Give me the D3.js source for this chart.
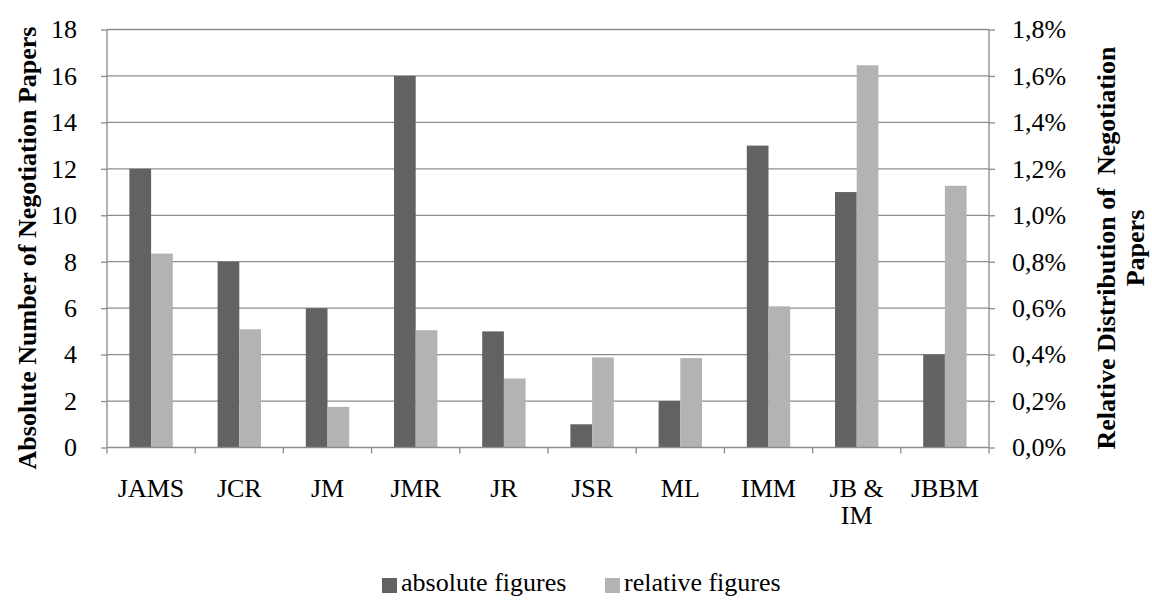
<!DOCTYPE html>
<html><head><meta charset="utf-8">
<script src="https://cdn.jsdelivr.net/npm/d3@7"></script>
<style>body{margin:0;background:#fff}svg{display:block}
svg text{font-family:"Liberation Serif","Times New Roman","DejaVu Serif",serif;}</style>
</head><body>
<svg id="c" width="1152" height="601"></svg>
<script>
const categories = ["JAMS","JCR","JM","JMR","JR","JSR","ML","IMM","JB & IM","JBBM"];
const absoluteValues = [12,8,6,16,5,1,2,13,11,4];
const relativeValues = [0.835,0.509,0.175,0.505,0.297,0.388,0.385,0.608,1.646,1.127];
const leftTicks = [0,2,4,6,8,10,12,14,16,18];
const rightTicks = [0,0.2,0.4,0.6,0.8,1.0,1.2,1.4,1.6,1.8];
const seriesNames = ["absolute figures","relative figures"];
const colors = ["#626262","#b3b3b3"];

const svg = d3.select("#c");
const m = {l:107, r:989, t:29.5, b:447.5};
const fs = 26;
const x = d3.scaleBand().domain(categories).range([m.l,m.r]).paddingInner(0).paddingOuter(0);
const yL = d3.scaleLinear().domain([0,18]).range([m.b,m.t]);
const yR = d3.scaleLinear().domain([0,1.8]).range([m.b,m.t]);
const grid="#8c8c8c";

// gridlines
svg.append("g").selectAll("line").data(leftTicks.slice(1)).join("line")
  .attr("x1",m.l).attr("x2",m.r).attr("y1",d=>yL(d)).attr("y2",d=>yL(d))
  .attr("stroke",grid).attr("stroke-width",1.3);

const bw = x.bandwidth()*0.246;
const g = svg.append("g");
g.selectAll("rect.a").data(categories).join("rect")
  .attr("x",d=>x(d)+x.bandwidth()/2-bw).attr("width",bw)
  .attr("y",(d,i)=>yL(absoluteValues[i])).attr("height",(d,i)=>yL(0)-yL(absoluteValues[i]))
  .attr("fill",colors[0]);
g.selectAll("rect.b").data(categories).join("rect")
  .attr("x",d=>x(d)+x.bandwidth()/2).attr("width",bw)
  .attr("y",(d,i)=>yR(relativeValues[i])).attr("height",(d,i)=>yR(0)-yR(relativeValues[i]))
  .attr("fill",colors[1]);

// axes
const la = svg.append("g").attr("transform",`translate(${m.l},0)`)
  .call(d3.axisLeft(yL).tickValues(leftTicks).tickSize(6).tickPadding(24).tickFormat(d3.format("d")));
const ra = svg.append("g").attr("transform",`translate(${m.r},0)`)
  .call(d3.axisRight(yR).tickValues(rightTicks).tickSize(6).tickPadding(17).tickFormat(d=>d.toFixed(1).replace(".",",")+"%"));
const xa = svg.append("g").attr("transform",`translate(0,${m.b})`)
  .call(d3.axisBottom(x).tickSize(0).tickFormat(""));
[la,ra,xa].forEach(a=>{a.attr("font-family",null).attr("font-size",null);
  a.select(".domain").attr("stroke",grid).attr("stroke-width",1.3);
  a.selectAll(".tick line").attr("stroke",grid).attr("stroke-width",1.3);
  a.selectAll("text").style("font-size",fs+"px").attr("fill","#000");});
la.select(".domain").attr("d",`M0,${m.t}V${m.b}`);
ra.select(".domain").attr("d",`M0,${m.t}V${m.b}`);
xa.select(".domain").attr("d",`M${m.l},0H${m.r}`);
// category boundary ticks
svg.append("g").selectAll("line").data(d3.range(categories.length+1)).join("line")
  .attr("x1",i=>m.l+i*x.bandwidth()).attr("x2",i=>m.l+i*x.bandwidth())
  .attr("y1",m.b).attr("y2",m.b+6).attr("stroke",grid).attr("stroke-width",1.3);

// category labels
svg.append("g").selectAll("text").data(categories).join("text")
  .attr("x",d=>x(d)+x.bandwidth()/2).attr("y",497)
  .attr("text-anchor","middle").style("font-size",fs+"px")
  .each(function(d){
    const parts = d==="JB & IM" ? ["JB &","IM"] : [d];
    d3.select(this).selectAll("tspan").data(parts).join("tspan")
      .attr("x",x(d)+x.bandwidth()/2).attr("dy",(p,i)=>i?27:0).text(p=>p);
  });

// axis titles
svg.append("text").attr("transform","translate(36,248) rotate(-90)")
  .attr("text-anchor","middle").style("font-size","26px").attr("font-weight","bold")
  .text("Absolute Number of Negotiation Papers");
const rt = svg.append("text").attr("transform","translate(1115,248) rotate(-90)")
  .attr("text-anchor","middle").style("font-size","26px").attr("font-weight","bold");
rt.append("tspan").attr("x",0).attr("dy",0).text("Relative Distribution of\u00a0 Negotiation");
rt.append("tspan").attr("x",0).attr("dy",29).text("Papers");

// legend
const lg = svg.append("g");
const legX = [382, 605];
seriesNames.forEach((s,i)=>{
  lg.append("rect").attr("x",legX[i]).attr("y",578).attr("width",15).attr("height",15).attr("fill",colors[i]);
  lg.append("text").attr("x",legX[i]+19).attr("y",591).style("font-size",fs+"px").text(s);
});
</script>
</body></html>
